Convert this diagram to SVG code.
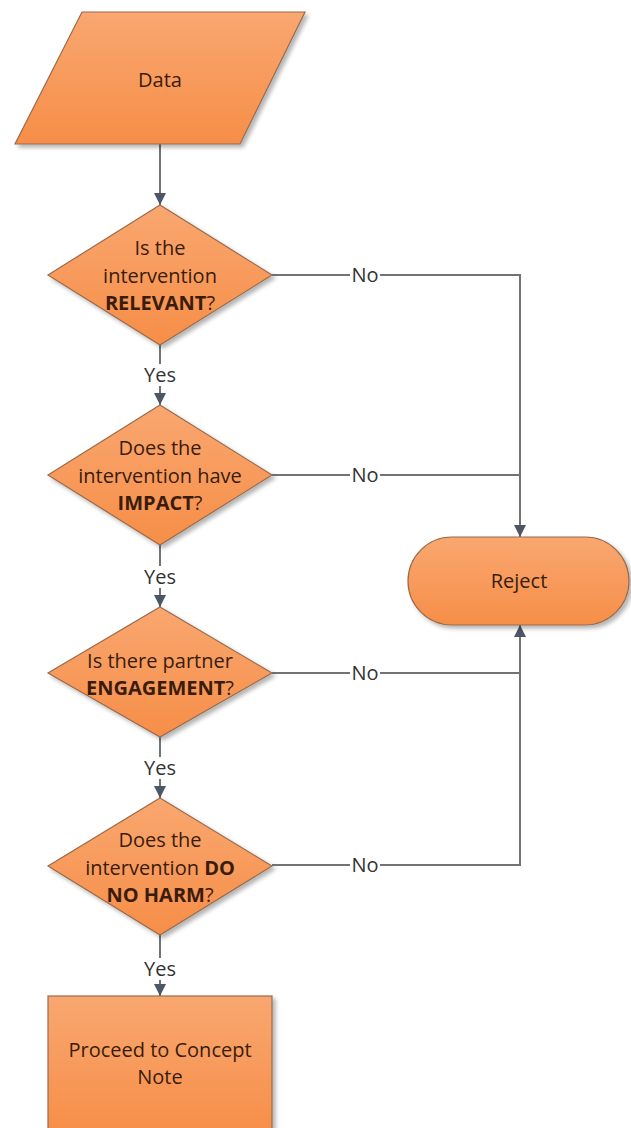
<svg xmlns="http://www.w3.org/2000/svg" width="631" height="1128" viewBox="0 0 631 1128">
<defs>
<linearGradient id="og" x1="0" y1="0" x2="0" y2="1">
<stop offset="0" stop-color="#F9A770"/>
<stop offset="1" stop-color="#F68E48"/>
</linearGradient>
<filter id="sh" x="-10%" y="-10%" width="130%" height="130%">
<feGaussianBlur in="SourceAlpha" stdDeviation="2"/>
<feOffset dx="3" dy="3" result="b"/>
<feComponentTransfer><feFuncA type="linear" slope="0.3"/></feComponentTransfer>
<feMerge><feMergeNode/><feMergeNode in="SourceGraphic"/></feMerge>
</filter>
<marker id="ah" viewBox="0 0 12 12" refX="12" refY="6" markerWidth="12" markerHeight="12" markerUnits="userSpaceOnUse" orient="auto">
<path d="M0,0 L12,6 L0,12 z" fill="#4D5665"/>
</marker>
<style>
.shape{fill:url(#og);stroke:#9A6B4C;stroke-width:1.2;filter:url(#sh)}
.t{font-family:"Open Sans","Liberation Sans",sans-serif;font-size:20px;fill:#3A1C0C;text-anchor:middle}
.b{font-weight:bold}
.c{fill:none;stroke:#737373;stroke-width:2}
.lbl{font-family:"Open Sans","Liberation Sans",sans-serif;font-size:20px;fill:#333;text-anchor:middle}
</style>
</defs>
<rect width="631" height="1128" fill="#fff"/>
<g id="connectors">
<path class="c" d="M160,144 V205" marker-end="url(#ah)"/>
<path class="c" d="M160,345 V405" marker-end="url(#ah)"/>
<path class="c" d="M160,545 V607" marker-end="url(#ah)"/>
<path class="c" d="M160,737 V798" marker-end="url(#ah)"/>
<path class="c" d="M160,935 V996" marker-end="url(#ah)"/>
<path class="c" d="M272,275 H520 V537" marker-end="url(#ah)"/>
<path class="c" d="M272,475 H520"/>
<path class="c" d="M272,673 H520"/>
<path class="c" d="M272,865 H520 V625" marker-end="url(#ah)"/>
<g>
<rect x="142" y="364" width="36" height="22" fill="#fff"/>
<text class="lbl" x="160" y="382">Yes</text>
<rect x="142" y="566" width="36" height="22" fill="#fff"/>
<text class="lbl" x="160" y="584">Yes</text>
<rect x="142" y="757" width="36" height="22" fill="#fff"/>
<text class="lbl" x="160" y="775">Yes</text>
<rect x="142" y="958" width="36" height="22" fill="#fff"/>
<text class="lbl" x="160" y="976">Yes</text>
<rect x="350" y="264" width="30" height="22" fill="#fff"/>
<text class="lbl" x="365" y="282">No</text>
<rect x="350" y="464" width="30" height="22" fill="#fff"/>
<text class="lbl" x="365" y="482">No</text>
<rect x="350" y="662" width="30" height="22" fill="#fff"/>
<text class="lbl" x="365" y="680">No</text>
<rect x="350" y="854" width="30" height="22" fill="#fff"/>
<text class="lbl" x="365" y="872">No</text>
</g>
</g>
<g id="data">
<polygon class="shape" points="82,12 305,12 240,144 15,144"/>
<text class="t" x="160" y="87">Data</text>
</g>
<g id="relevant">
<polygon class="shape" points="160,205 272,275 160,345 48,275"/>
<text class="t" x="160" y="255">Is the</text>
<text class="t" x="160" y="283">intervention</text>
<text class="t" x="160" y="310"><tspan class="b">RELEVANT</tspan>?</text>
</g>
<g id="impact">
<polygon class="shape" points="160,405 272,475 160,545 48,475"/>
<text class="t" x="160" y="455">Does the</text>
<text class="t" x="160" y="483">intervention have</text>
<text class="t" x="160" y="510"><tspan class="b">IMPACT</tspan>?</text>
</g>
<g id="engagement">
<polygon class="shape" points="160,607 272,673 160,737 48,673"/>
<text class="t" x="160" y="668">Is there partner</text>
<text class="t" x="160" y="695"><tspan class="b">ENGAGEMENT</tspan>?</text>
</g>
<g id="noharm">
<polygon class="shape" points="160,798 272,866 160,935 48,866"/>
<text class="t" x="160" y="847">Does the</text>
<text class="t" x="160" y="875">intervention <tspan class="b">DO</tspan></text>
<text class="t" x="160" y="902"><tspan class="b">NO HARM</tspan>?</text>
</g>
<g id="reject">
<rect class="shape" x="408" y="537" width="221" height="88" rx="44" ry="44"/>
<text class="t" x="519" y="588">Reject</text>
</g>
<g id="proceed">
<rect class="shape" x="48" y="996" width="224" height="140"/>
<text class="t" x="160" y="1057">Proceed to Concept</text>
<text class="t" x="160" y="1084">Note</text>
</g>
</svg>
